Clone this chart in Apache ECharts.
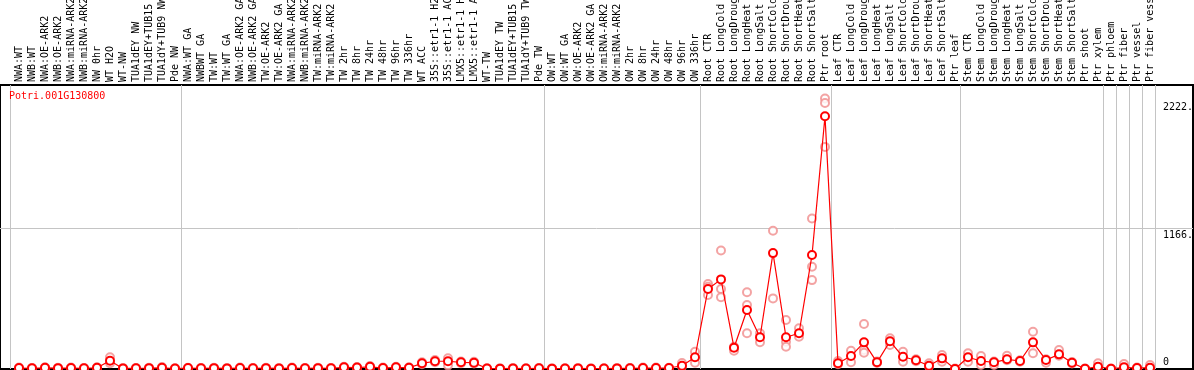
<!DOCTYPE html>
<html>
<head>
<meta charset="utf-8">
<script src="https://cdn.jsdelivr.net/npm/echarts@6.0.0/dist/echarts.min.js"></script>
<style>
html,body{margin:0;padding:0;background:#fff;}
#chart{width:1194px;height:370px;}
</style>
</head>
<body>
<div id="chart"></div>
<script>
const geneId = 'Potri.001G130800';

const categories = [
'NWA:WT','NWB:WT','NWA:OE-ARK2','NWB:OE-ARK2','NWA:miRNA-ARK2','NWB:miRNA-ARK2','NW 0hr','WT H2O','WT-NW','TUA1dEY NW','TUA1dEY+TUB15 NW','TUA1dY+TUB9 NW','Pde NW',
'NWA:WT GA','NWBWT GA','TW:WT','TW:WT GA','NWA:OE-ARK2 GA','NWB:OE-ARK2 GA','TW:OE-ARK2','TW:OE-ARK2 GA','NWA:miRNA-ARK2 GA','NWB:miRNA-ARK2 GA','TW:miRNA-ARK2','TW:miRNA-ARK2 GA',
'TW 2hr','TW 8hr','TW 24hr','TW 48hr','TW 96hr','TW 336hr',
'WT ACC','35S::etr1-1 H2O','35S::etr1-1 ACC','LMX5::etr1-1 H2O','LMX5::etr1-1 ACC',
'WT-TW','TUA1dEY TW','TUA1dEY+TUB15 TW','TUA1dY+TUB9 TW','Pde TW',
'OW:WT','OW:WT GA','OW:OE-ARK2','OW:OE-ARK2 GA','OW:miRNA-ARK2','OW:miRNA-ARK2 GA','OW 2hr','OW 8hr','OW 24hr','OW 48hr','OW 96hr','OW 336hr',
'Root CTR','Root LongCold','Root LongDrought','Root LongHeat','Root LongSalt','Root ShortCold','Root ShortDrought','Root ShortHeat','Root ShortSalt','Ptr root',
'Leaf CTR','Leaf LongCold','Leaf LongDrought','Leaf LongHeat','Leaf LongSalt','Leaf ShortCold','Leaf ShortDrought','Leaf ShortHeat','Leaf ShortSalt','Ptr leaf',
'Stem CTR','Stem LongCold','Stem LongDrought','Stem LongHeat','Stem LongSalt','Stem ShortCold','Stem ShortDrought','Stem ShortHeat','Stem ShortSalt','Ptr shoot',
'Ptr xylem','Ptr phloem','Ptr fiber','Ptr vessel','Ptr fiber vessel'
];

// mean expression (line)
const meanValues = [
8,6,10,7,8,6,10,68,5,6,7,10,4,
8,6,7,5,8,6,7,5,8,6,7,6,
14,12,18,8,14,10,
47,64,64,55,52,
4,3,5,4,6,
3,4,5,3,4,5,6,8,8,8,27,97,
660,740,176,487,262,957,262,295,941,2087,
47,107,220,55,229,101,72,27,88,0,
97,66,55,80,66,220,74,121,52,2,
19,2,14,8,11
];

// replicate samples
const replicate1 = [
12,9,14,11,12,9,14,96,8,9,11,16,7,
11,9,10,8,12,9,10,8,12,9,10,9,
18,16,24,12,18,14,
55,75,89,62,60,
7,6,8,7,9,
6,7,8,6,7,8,9,12,12,11,50,143,
701,979,184,633,295,1141,404,336,1243,2234,
66,151,371,62,253,143,80,47,116,4,
130,107,62,110,72,308,80,157,58,5,
47,5,41,12,33
];
const replicate2 = [
4,3,6,4,5,3,6,47,2,3,4,5,2,
4,3,4,2,4,3,4,2,4,3,4,3,
10,8,12,5,10,6,
40,55,30,48,45,
2,1,3,2,3,
1,2,3,1,2,3,4,5,5,5,20,52,
611,660,151,528,221,583,225,266,844,2197,
40,55,157,50,198,60,65,20,60,0,
60,33,33,72,60,130,52,110,46,0,
12,0,8,4,6
];
const replicate3 = [
null,null,null,null,null,null,null,null,null,null,null,null,null,
null,null,null,null,null,null,null,null,null,null,null,null,
null,null,null,null,null,null,
null,null,null,null,null,
null,null,null,null,null,
null,null,null,null,null,null,null,null,null,null,null,null,
679,592,null,295,null,null,184,null,734,1834,
null,null,134,null,null,null,null,null,null,null,
null,null,null,null,null,null,null,null,null,null,
null,null,null,null,null
];

// group separators (in category index units)
const groupBreaks = [-0.7, 12.45, 40.4, 52.4, 62.45, 72.4, 83.38, 84.38, 85.38, 86.38, 87.38];

// y axis ticks
const yTickValues = [0, 1166, 2222];
const yTickText = ['0', '1166.', '2222.'];
const yGridValues = [1166];

const mono = 'DejaVu Sans Mono';
const pairs = arr => arr.map((v, i) => [i, v]);

const chart = echarts.init(document.getElementById('chart'), null, {renderer: 'canvas'});
chart.setOption({
  animation: false,
  backgroundColor: '#fff',
  title: {
    text: geneId, left: 9, top: 91, padding: 0,
    textStyle: {color: '#ff0000', fontSize: 10, fontFamily: mono, fontWeight: 'normal'}
  },
  grid: {left: 0, right: 1, top: 85, bottom: 1, show: true, borderColor: '#000', borderWidth: 2,
         backgroundColor: 'transparent', containLabel: false, outerBoundsMode: 'none'},
  xAxis: {
    type: 'value', position: 'top',
    min: -19 / 13, max: (1193 - 19) / 13,
    axisLine: {show: false},
    axisTick: {show: false, customValues: groupBreaks},
    splitLine: {show: true, lineStyle: {color: '#c4c4c4', width: 1}},
    axisLabel: {
      customValues: categories.map((_, i) => i),
      rotate: 90, margin: 3, fontSize: 10, fontFamily: mono, color: '#000',
      hideOverlap: false, showMinLabel: true, showMaxLabel: true,
      formatter: v => categories[Math.round(v)]
    }
  },
  yAxis: {
    type: 'value', position: 'right', min: 0, max: 2345,
    axisLine: {show: false},
    axisTick: {show: false, customValues: yGridValues},
    splitLine: {show: true, lineStyle: {color: '#c4c4c4', width: 1}},
    axisLabel: {
      customValues: yTickValues,
      inside: true, align: 'left', margin: 30, verticalAlign: 'middle',
      showMinLabel: true, showMaxLabel: true, hideOverlap: false,
      formatter: v => {
        const t = yTickText[yTickValues.indexOf(v)];
        return v === 0 ? '{z|' + t + '}' : '{n|' + t + '}';
      },
      rich: {
        z: {fontSize: 10, fontFamily: mono, color: '#000', padding: [0, 0, 13, 0]},
        n: {fontSize: 10, fontFamily: mono, color: '#000', padding: [15, 0, 0, 0]}
      }
    }
  },
  series: [
    {type: 'scatter', data: pairs(replicate1), symbol: 'emptyCircle', symbolSize: 8, z: 2,
     itemStyle: {color: '#f08c8c', borderColor: '#f08c8c', borderWidth: 1.2}},
    {type: 'scatter', data: pairs(replicate2), symbol: 'emptyCircle', symbolSize: 8, z: 2,
     itemStyle: {color: '#f08c8c', borderColor: '#f08c8c', borderWidth: 1.2}},
    {type: 'scatter', data: pairs(replicate3).filter(p => p[1] !== null), symbol: 'emptyCircle', symbolSize: 8, z: 2,
     itemStyle: {color: '#f08c8c', borderColor: '#f08c8c', borderWidth: 1.2}},
    {type: 'line', data: pairs(meanValues), symbol: 'emptyCircle', symbolSize: 8, z: 5,
     lineStyle: {color: '#ff0000', width: 1.2},
     itemStyle: {color: '#ff0000', borderColor: '#ff0000', borderWidth: 1.6}}
  ]
});
</script>
</body>
</html>
